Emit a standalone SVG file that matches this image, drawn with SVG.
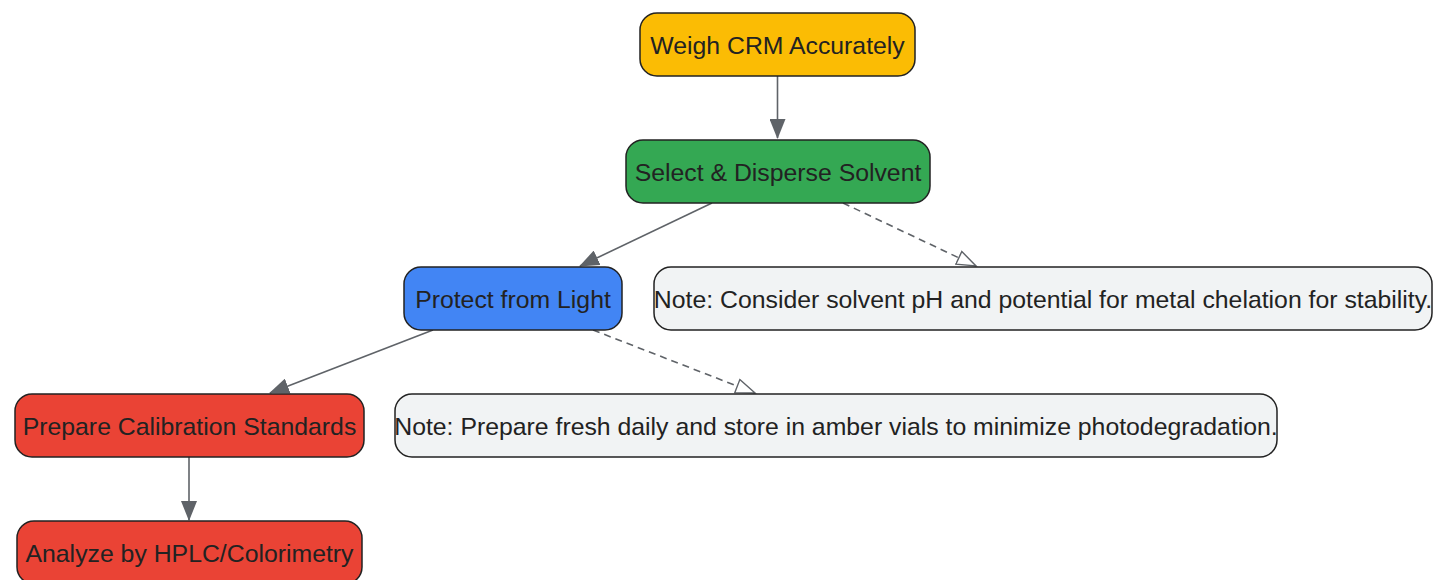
<svg xmlns="http://www.w3.org/2000/svg" width="1434" height="580" viewBox="0 0 1434 580">
<defs>
<style>
.n{stroke:#222;stroke-width:1.5}
.t{font-family:"Liberation Sans",Arial,sans-serif;font-size:24.8px;fill:#222;text-anchor:middle;dominant-baseline:central}
.e{fill:none;stroke:#5f6368;stroke-width:1.6}
.d{stroke-dasharray:7,5}
</style>
<marker id="a" viewBox="0 0 20 16" refX="19" refY="8" markerWidth="20" markerHeight="16" markerUnits="userSpaceOnUse" orient="auto">
<path d="M0,0 L20,8 L0,16 z" fill="#5f6368"/>
</marker>
<marker id="h" viewBox="0 0 22 16" refX="20" refY="8" markerWidth="22" markerHeight="16" markerUnits="userSpaceOnUse" orient="auto">
<path d="M1,1 L20,8 L1,15 z" fill="#fff" stroke="#5f6368" stroke-width="1.4"/>
</marker>
</defs>
<rect width="1434" height="580" fill="#fff"/>
<g id="edges">
<path class="e" d="M777.5,76 L777.5,138" marker-end="url(#a)"/>
<path class="e" d="M712,203 L580,266" marker-end="url(#a)"/>
<path class="e d" d="M843,203 L976,266" marker-end="url(#h)"/>
<path class="e" d="M433,330 L270,393" marker-end="url(#a)"/>
<path class="e d" d="M593,330 L755,393" marker-end="url(#h)"/>
<path class="e" d="M189,457 L189,520" marker-end="url(#a)"/>
</g>
<g id="weigh"><rect class="n" x="640" y="13" width="275" height="63" rx="17" fill="#FBBC04"/><text class="t" x="777.5" y="45">Weigh CRM Accurately</text></g>
<g id="select"><rect class="n" x="626" y="140" width="304" height="63" rx="17" fill="#34A853"/><text class="t" x="778" y="172">Select &amp; Disperse Solvent</text></g>
<g id="protect"><rect class="n" x="404" y="267" width="218" height="63" rx="17" fill="#4285F4"/><text class="t" x="513" y="299">Protect from Light</text></g>
<g id="note1"><rect class="n" x="654" y="267" width="778" height="63" rx="17" fill="#F1F3F4"/><text class="t" x="1043" y="299">Note: Consider solvent pH and potential for metal chelation for stability.</text></g>
<g id="prepare"><rect class="n" x="15" y="394" width="349" height="63" rx="17" fill="#EA4335"/><text class="t" x="189.5" y="426">Prepare Calibration Standards</text></g>
<g id="note2"><rect class="n" x="395" y="394" width="882" height="63" rx="17" fill="#F1F3F4"/><text class="t" x="836" y="426">Note: Prepare fresh daily and store in amber vials to minimize photodegradation.</text></g>
<g id="analyze"><rect class="n" x="17" y="521" width="345" height="63" rx="17" fill="#EA4335"/><text class="t" x="189.5" y="553">Analyze by HPLC/Colorimetry</text></g>
</svg>
